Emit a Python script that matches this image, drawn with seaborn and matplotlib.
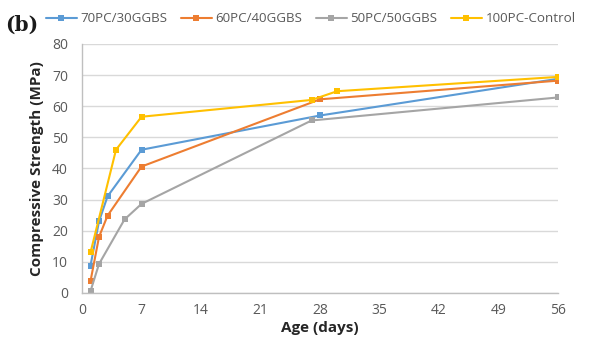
import matplotlib
matplotlib.use("Agg")
import matplotlib.pyplot as plt
import seaborn as sns
import pandas as pd

sns.set_theme(style="white")
plt.rcParams['font.family'] = ['Open Sans', 'DejaVu Sans']

series_names = ["70PC/30GGBS", "60PC/40GGBS", "50PC/50GGBS", "100PC-Control"]
colors = ["#5B9BD5", "#ED7D31", "#A5A5A5", "#FFC000"]

age_70 = [1, 2, 3, 7, 28, 56]
str_70 = [8.8, 23.0, 31.0, 46.0, 57.0, 68.8]
age_60 = [1, 2, 3, 7, 28, 56]
str_60 = [3.8, 18.0, 24.8, 40.6, 62.2, 68.2]
age_50 = [1, 2, 5, 7, 27, 56]
str_50 = [0.6, 9.3, 23.6, 28.6, 55.4, 62.8]
age_100 = [1, 4, 7, 27, 30, 56]
str_100 = [13.0, 46.0, 56.6, 62.0, 64.8, 69.4]

x_ticks = [0, 7, 14, 21, 28, 35, 42, 49, 56]
y_ticks = [0, 10, 20, 30, 40, 50, 60, 70, 80]

frames = []
for name, a, s in zip(series_names, [age_70, age_60, age_50, age_100],
                      [str_70, str_60, str_50, str_100]):
    frames.append(pd.DataFrame({"Age": a, "Strength": s, "Mix": name}))
df = pd.concat(frames, ignore_index=True)

fig = plt.figure(figsize=(5.90, 3.43), dpi=100)
ax = fig.add_axes([0.139, 0.146, 0.807, 0.726])

sns.lineplot(data=df, x="Age", y="Strength", hue="Mix", hue_order=series_names,
             palette=colors, marker="s", markersize=4.5, markeredgewidth=0,
             linewidth=1.5, ax=ax, legend=True, sort=False, estimator=None)

ax.set_xlim(0, 56)
ax.set_ylim(0, 80)
ax.set_xticks(x_ticks)
ax.set_yticks(y_ticks)
ax.yaxis.grid(True, color="#D9D9D9", linewidth=1.0)
ax.xaxis.grid(False)
ax.set_axisbelow(True)
for side in ["top", "right"]:
    ax.spines[side].set_visible(False)
for side in ["left", "bottom"]:
    ax.spines[side].set_color("#BFBFBF")
    ax.spines[side].set_linewidth(1.0)
ax.tick_params(axis="both", colors="#BFBFBF", length=4, width=1.0,
               labelcolor="#595959", labelsize=10, direction="out")
ax.tick_params(axis="y", pad=6)
ax.set_xlabel("Age (days)", fontsize=11, fontweight="bold", color="#262626", labelpad=2)
ax.set_ylabel("Compressive Strength (MPa)", fontsize=11, fontweight="bold", color="#262626", labelpad=6)

handles, labels = ax.get_legend_handles_labels()
ax.get_legend().remove()
fig.legend(handles, labels, loc="center left", bbox_to_anchor=(0.078, 0.945), ncol=4,
           frameon=False, fontsize=9.6, handlelength=2.3, handletextpad=0.3,
           columnspacing=1.0, labelcolor="#595959", borderaxespad=0, borderpad=0)

fig.text(0.008, 0.91, "(b)", fontsize=14.5, fontweight="bold", family="DejaVu Serif",
         color="#1a1a1a")

fig.savefig("out.png", dpi=100)
